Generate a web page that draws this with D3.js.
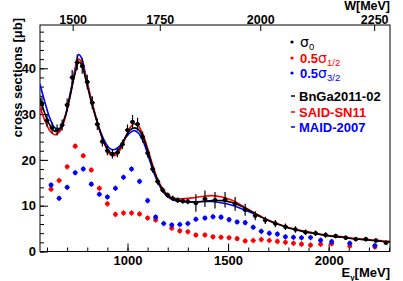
<!DOCTYPE html>
<html><head><meta charset="utf-8">
<script src="https://cdn.jsdelivr.net/npm/d3@7"></script>
<style>
html,body{margin:0;padding:0;background:#fff;}
svg text{font-family:"Liberation Sans",Arial,Helvetica,sans-serif;}
</style></head>
<body><svg id="c" width="403" height="281"></svg>
<script>
// ---- data ----
const eSigma0 = [575,600,625,650,675,700,725,750,775,800,825,850,875,900,925,950,975,1000,1025,1050,1075,1100,1125,1150,1175,1200,1225,1250,1275,1300,1340,1385,1435,1485,1535,1585,1635,1685,1735,1785,1835,1885,1935,1985,2035,2085,2135,2185,2235,2285];
const sigma0 = [32.3,28.6,27.0,26.5,27.6,32.0,38.0,41.3,40.5,37.0,32.5,27.8,24.0,22.0,21.3,21.6,23.4,26.5,28.3,27.8,25.0,21.5,18.0,15.3,13.4,12.3,11.6,11.2,11.0,10.9,10.6,11.5,11.2,11.3,10.4,9.1,7.8,6.8,6.1,5.4,4.8,4.2,4.0,3.6,3.4,3.0,2.7,2.7,2.4,1.9];
const sigma0Err = [1.5,1.3,1.2,1.2,1.2,1.4,1.6,1.7,1.7,1.6,1.4,1.3,1.1,1.0,1.0,1.0,1.0,1.2,1.5,1.4,1.2,1.0,0.8,0.7,0.6,0.6,0.6,0.6,0.6,0.6,1.9,1.8,1.8,1.7,1.5,1.3,1.0,0.8,0.8,0.7,0.7,0.6,0.6,0.6,0.5,0.5,0.5,0.5,0.5,0.5];

const eHalf = [620,660,700,740,780,820,860,900,940,980,1020,1060,1100,1140,1220,1260,1300,1340,1385,1425,1465,1505,1545,1585,1625,1665,1705,1745,1785,1825,1865,1910,1960,2015,2105,2230];
const sigmaHalf = [13.6,15.5,18.5,23.0,20.9,17.8,13.8,10.4,8.1,8.4,8.4,8.2,7.3,6.9,5.1,4.5,4.3,3.6,3.6,3.2,3.1,3.0,2.8,2.3,2.4,2.6,2.4,2.2,2.0,1.8,1.6,1.4,1.6,1.7,1.2,1.0];

const eThreeHalf = [620,660,700,740,780,820,860,900,940,980,1020,1060,1100,1140,1180,1220,1260,1300,1340,1385,1425,1465,1505,1545,1585,1625,1665,1705,1745,1785,1825,1865,1910,1960,2015,2105,2230];
const sigmaThreeHalf = [14.5,11.6,14.0,17.2,18.0,14.7,12.5,11.9,13.8,16.2,18.0,15.3,11.1,7.5,6.1,5.8,5.9,6.1,7.05,7.3,7.6,7.5,6.95,6.45,6.3,5.3,4.4,4.0,3.8,3.2,3.1,3.0,3.05,2.45,2.15,1.8,1.3];

const eModel = [565,590,615,640,665,690,715,740,757,772,790,815,840,865,890,915,940,965,990,1015,1035,1055,1080,1105,1130,1155,1180,1205,1230,1270,1320,1370,1420,1470,1520,1570,1620,1670,1720,1770,1820,1870,1920,1970,2020,2070,2120,2170,2220,2270,2305];
const bnga = [33.5,30.0,27.5,26.2,26.8,29.5,34.0,39.0,41.3,40.8,38.0,33.5,29.5,26.0,23.2,21.6,21.5,22.8,25.0,26.6,27.0,26.6,24.6,21.3,17.8,15.0,13.1,12.0,11.4,11.0,10.8,10.9,11.1,11.1,10.7,9.8,8.6,7.4,6.4,5.6,4.9,4.4,4.0,3.6,3.3,3.1,2.8,2.6,2.4,2.2,2.1];
const said = [31.5,28.5,26.3,25.5,26.3,29.2,34.0,39.5,42.0,41.3,38.5,34.0,29.8,26.0,23.0,21.1,21.0,22.3,24.8,27.2,27.9,27.4,25.2,21.8,18.2,15.3,13.3,12.2,11.6,11.5,11.7,12.0,12.2,11.9,11.2,10.0,8.7,7.5,6.5,5.7,5.0,4.5,4.1,3.7,3.4,3.2,2.9,2.7,2.5,2.3,2.2];
const eMaid = [565,590,615,640,665,690,715,740,757,772,790,815,840,865,890,915,940,965,990,1015,1035,1055,1080,1105,1130,1155,1180,1205,1230,1270,1320,1370,1420,1470,1520,1570,1620,1663];
const maid = [36.5,32.5,29.0,27.0,27.0,29.5,34.5,40.0,43.0,42.2,39.0,34.0,29.8,26.3,23.8,22.4,22.3,23.2,24.8,26.0,26.4,25.8,23.8,20.6,17.3,14.7,12.9,11.8,11.2,10.9,10.8,10.9,10.9,10.6,10.1,9.3,8.4,7.6];

const xTicks = [1000,1500,2000];
const xMinorTicks = d3.range(600, 2301, 100);
const wTicks = [1500,1750,2000,2250];
const yTicks = [0,10,20,30,40];
const yMinorTicks = d3.range(0, 49, 2);

// ---- layout ----
const L = 40, R = 390, T = 25, B = 251.5;
const svg = d3.select("#c");
const x = d3.scaleLinear().domain([565, 2305]).range([L, R]);
const y = d3.scaleLinear().domain([0, 49.45]).range([B, T]);
const mp = 938.27;
const eFromW = W => (W*W - mp*mp) / (2*mp);

svg.append("defs").append("clipPath").attr("id","clp")
  .append("rect").attr("x",L).attr("y",T).attr("width",R-L).attr("height",B-T);

// axes
const gB = svg.append("g").attr("transform",`translate(0,${B})`)
  .call(d3.axisBottom(x).tickValues(xTicks).tickSize(-8).tickPadding(4).tickFormat(d3.format("d")));
const gBm = svg.append("g").attr("transform",`translate(0,${B})`)
  .call(d3.axisBottom(x).tickValues(xMinorTicks).tickSize(-4).tickFormat(""));
const gL = svg.append("g").attr("transform",`translate(${L},0)`)
  .call(d3.axisLeft(y).tickValues(yTicks).tickSize(-8).tickPadding(4));
const gLm = svg.append("g").attr("transform",`translate(${L},0)`)
  .call(d3.axisLeft(y).tickValues(yMinorTicks).tickSize(-4).tickFormat(""));
[gB,gBm,gL,gLm].forEach(g=>{
  g.select(".domain").remove();
  g.selectAll("line").attr("stroke","#000").attr("stroke-width",1);
  g.selectAll("text").attr("fill","#000").style("font-size","13px").style("font-weight","bold")
   .style("font-family",'"Liberation Sans",Arial,sans-serif');
});
gB.selectAll("text").attr("dy","0.71em");
// top W axis (non-linear, positioned through the E scale)
const gT = svg.append("g");
wTicks.forEach(w=>{
  const px = x(eFromW(w));
  gT.append("line").attr("x1",px).attr("x2",px).attr("y1",T).attr("y2",T+6).attr("stroke","#000");
  gT.append("text").attr("x",px).attr("y",T-1.5).attr("text-anchor","middle")
    .style("font-size","12.5px").style("font-weight","bold").text(w);
});

// frame
svg.append("rect").attr("x",L).attr("y",T).attr("width",R-L).attr("height",B-T)
  .attr("fill","none").attr("stroke","#000").attr("stroke-width",1);

// titles
svg.append("text").attr("x",R).attr("y",9.5).attr("text-anchor","end")
  .style("font-size","12.5px").style("font-weight","bold").text("W[MeV]");
const et = svg.append("text").attr("x",R).attr("y",277).attr("text-anchor","end")
  .style("font-size","13px").style("font-weight","bold");
et.append("tspan").text("E");
et.append("tspan").attr("dy",3).style("font-size","8px").text("γ");
et.append("tspan").attr("dy",-3).text("[MeV]");
svg.append("text").attr("transform","translate(22,18) rotate(-90)").attr("text-anchor","end")
  .style("font-size","13px").style("font-weight","bold").text("cross sections [μb]");

const plot = svg.append("g").attr("clip-path","url(#clp)");

// model curves
const line = d3.line().curve(d3.curveCatmullRom.alpha(0.5));
function curve(es, vs, col){
  plot.append("path").attr("d", line(es.map((e,i)=>[x(e), y(vs[i])])))
    .attr("fill","none").attr("stroke",col).attr("stroke-width",1.6);
}
curve(eMaid, maid, "#0000ff");
curve(eModel, said, "#ff0000");
curve(eModel, bnga, "#000000");

// sigma0 data
const g0 = plot.append("g");
eSigma0.forEach((e,i)=>{
  const px = x(e), py = y(sigma0[i]);
  g0.append("line").attr("x1",px).attr("x2",px).attr("y1",y(sigma0[i]-sigma0Err[i])).attr("y2",y(sigma0[i]+sigma0Err[i]))
    .attr("stroke","#000").attr("stroke-width",1.2);
  g0.append("line").attr("x1",px-2.5).attr("x2",px+2.5).attr("y1",py).attr("y2",py)
    .attr("stroke","#000").attr("stroke-width",1.2);
  g0.append("circle").attr("cx",px).attr("cy",py).attr("r",2.2).attr("fill","#000");
});

function pts(es, vs, col){
  const g = plot.append("g");
  es.forEach((e,i)=>{
    const px = x(e), py = y(vs[i]);
    g.append("line").attr("x1",px).attr("x2",px).attr("y1",y(vs[i]-0.6)).attr("y2",y(vs[i]+0.6))
      .attr("stroke",col).attr("stroke-width",1);
    g.append("line").attr("x1",px-2.5).attr("x2",px+2.5).attr("y1",py).attr("y2",py)
      .attr("stroke",col).attr("stroke-width",1);
    g.append("circle").attr("cx",px).attr("cy",py).attr("r",2.3).attr("fill",col);
  });
}
pts(eHalf, sigmaHalf, "#ff0000");
pts(eThreeHalf, sigmaThreeHalf, "#0000ff");

// legend
const lg = svg.append("g");
const rows = [
  {y:42, col:"#000", kind:"dot"},
  {y:58, col:"#ff0000", kind:"dot"},
  {y:73, col:"#0000ff", kind:"dot"},
  {y:96, col:"#000", kind:"dash", label:"BnGa2011-02"},
  {y:112, col:"#ff0000", kind:"dash", label:"SAID-SN11"},
  {y:127, col:"#0000ff", kind:"dash", label:"MAID-2007"}
];
rows.forEach(r=>{
  if(r.kind==="dot"){
    lg.append("circle").attr("cx",292).attr("cy",r.y).attr("r",1.6).attr("fill",r.col);
  } else {
    lg.append("line").attr("x1",291).attr("x2",295).attr("y1",r.y).attr("y2",r.y).attr("stroke",r.col).attr("stroke-width",1.5);
  }
});
function sigLabel(yy, col, pre, sub){
  const t = lg.append("text").attr("x",300).attr("y",yy+5).attr("fill",col);
  if(pre) t.append("tspan").style("font-size","13px").style("font-weight","bold").text(pre);
  t.append("tspan").style("font-size","14px").style("font-family",'"DejaVu Sans",sans-serif').text("σ");
  t.append("tspan").attr("dy",3).style("font-size","9.5px").text(sub);
}
sigLabel(42,"#000","", "0");
sigLabel(58,"#ff0000","0.5", "1/2");
sigLabel(73,"#0000ff","0.5", "3/2");
rows.filter(r=>r.label).forEach(r=>{
  lg.append("text").attr("x",299).attr("y",r.y+4.5).attr("fill",r.col)
    .style("font-size","13px").style("font-weight","bold").text(r.label);
});
</script></body></html>
